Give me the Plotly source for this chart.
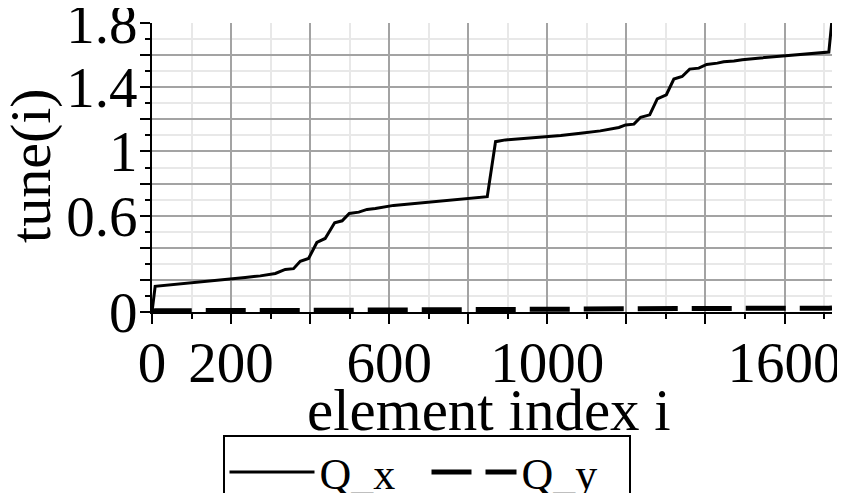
import plotly.graph_objects as go

# ---- data ----
qx_i = [0, 8, 236, 274, 312, 337, 358, 375, 396, 417, 438, 462, 481, 499, 523, 544,
        565, 586, 611, 848, 869, 894, 1034, 1084, 1134, 1181, 1198, 1219, 1236, 1259,
        1278, 1301, 1320, 1341, 1360, 1383, 1403, 1430, 1446, 1472, 1493, 1539, 1623,
        1712, 1720]
qx_v = [0.0, 0.16, 0.215, 0.225, 0.24, 0.265, 0.27, 0.316, 0.333, 0.433, 0.458, 0.556,
        0.568, 0.614, 0.622, 0.639, 0.645, 0.655, 0.664, 0.718, 1.061, 1.072, 1.099,
        1.114, 1.128, 1.149, 1.165, 1.17, 1.213, 1.228, 1.328, 1.353, 1.451, 1.467,
        1.513, 1.519, 1.542, 1.55, 1.559, 1.563, 1.571, 1.582, 1.598, 1.619, 1.82]

qy_i = [0, 8, 400, 848, 869, 1300, 1400, 1712, 1720]
qy_v = [0.0, 0.008, 0.010, 0.012, 0.016, 0.019, 0.022, 0.024, 0.025]

x_major = [0, 200, 400, 600, 800, 1000, 1200, 1400, 1600]
x_labels = ["0", "200", "", "600", "", "1000", "", "", "1600"]
x_minor = [100, 300, 500, 700, 900, 1100, 1300, 1500, 1700]
y_major = [0, 0.2, 0.4, 0.6, 0.8, 1.0, 1.2, 1.4, 1.6, 1.8]
y_labels = ["0", "", "", "0.6", "", "1", "", "1.4", "", "1.8"]
y_minor = [0.1, 0.3, 0.5, 0.7, 0.9, 1.1, 1.3, 1.5, 1.7]

x_title = "element index i"
y_title = "tune(i)"

FONT = "Liberation Serif"

fig = go.Figure()
fig.add_trace(go.Scatter(x=qx_i, y=qx_v, mode="lines", name="Q_x",
                         line=dict(color="black", width=3)))
fig.add_trace(go.Scatter(x=qy_i, y=qy_v, mode="lines", name="Q_y",
                         line=dict(color="black", width=5, dash="40px,14px")))

axis_common = dict(
    showline=True, linecolor="black", linewidth=2,
    ticks="outside", tickcolor="black", tickwidth=2, ticklen=10,
    showgrid=True, gridcolor="#a3a3a3", gridwidth=2,
    zeroline=False, automargin=False, ticklabeloverflow="allow",
    tickfont=dict(family=FONT, size=57, color="black"),
)

fig.update_xaxes(
    range=[0, 1720], tickmode="array", tickvals=x_major, ticktext=x_labels,
    ticklabelstandoff=-10,
    minor=dict(tickmode="array", tickvals=x_minor, ticks="outside", ticklen=5,
               tickcolor="black", tickwidth=2, showgrid=True,
               gridcolor="#e8e8e8", gridwidth=2),
    **axis_common,
)
fig.update_yaxes(
    range=[0, 1.8], tickmode="array", tickvals=y_major, ticktext=y_labels,
    ticklabelstandoff=-9,
    minor=dict(tickmode="array", tickvals=y_minor, ticks="outside", ticklen=5,
               tickcolor="black", tickwidth=2, showgrid=True,
               gridcolor="#e8e8e8", gridwidth=2),
    **axis_common,
)

# axis titles as annotations (fixed positions, since automargin is off)
fig.add_annotation(text=x_title, xref="paper", yref="paper", x=0.4956, y=-0.34,
                   xanchor="center", yanchor="middle", showarrow=False,
                   font=dict(family=FONT, size=59, color="black"))
fig.add_annotation(text=y_title, xref="paper", yref="paper", x=-0.178, y=0.5087,
                   xanchor="center", yanchor="middle", showarrow=False, textangle=-90,
                   font=dict(family=FONT, size=58, color="black"))

# page body has an 8px margin, so the figure is sized/offset to compensate
fig.update_layout(
    width=837, height=485,
    margin=dict(l=144, r=13, t=15, b=181),
    paper_bgcolor="white", plot_bgcolor="white",
    showlegend=True,
    legend=dict(orientation="h", xref="container", yref="container",
                x=0.5, xanchor="center", y=1 - 427 / 485, yanchor="top",
                bordercolor="black", borderwidth=2, bgcolor="white",
                font=dict(family=FONT, size=44, color="black"),
                itemwidth=85, entrywidth=102),
)

fig.write_html("out.html")
